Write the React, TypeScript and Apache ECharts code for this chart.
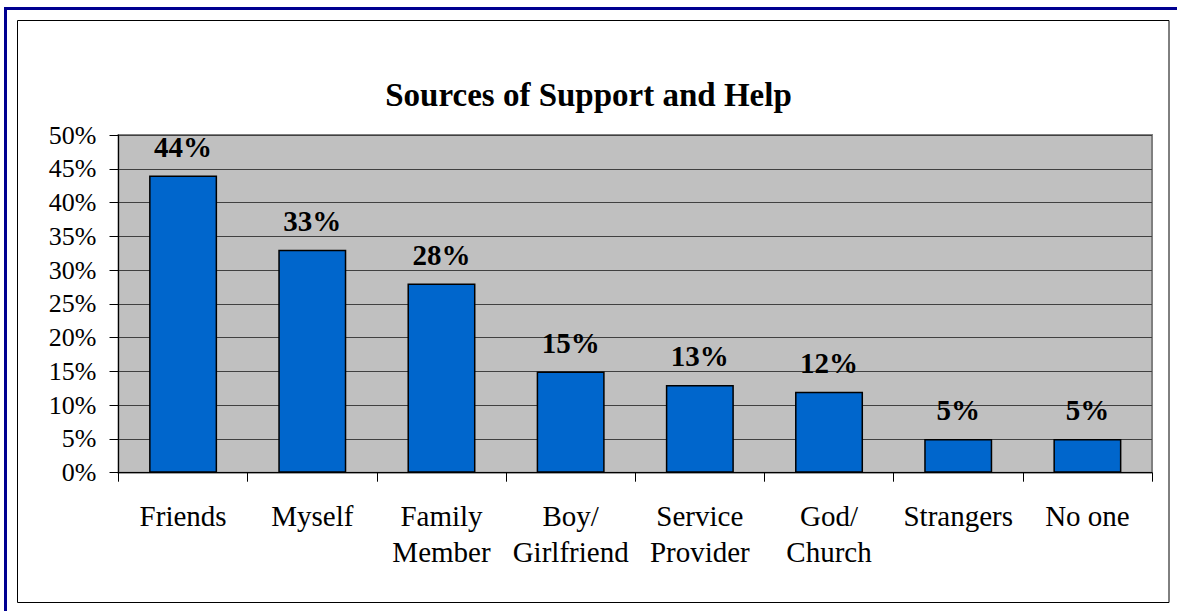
import React, { useEffect, useRef } from "react";
import * as echarts from "echarts";

const categories = ["Friends", "Myself", "Family\nMember", "Boy/\nGirlfriend", "Service\nProvider", "God/\nChurch", "Strangers", "No one"];
const values = [44, 33, 28, 15, 13, 12, 5, 5];
const yTicks = [0, 5, 10, 15, 20, 25, 30, 35, 40, 45, 50];
const title = "Sources of Support and Help";

const FONT = '"Liberation Serif", "Times New Roman", serif';

export default function App() {
  const ref = useRef<HTMLDivElement>(null);
  useEffect(() => {
    document.body.style.margin = "0";
    const chart = echarts.init(ref.current!, null, { renderer: "svg" });
    chart.setOption({
      animation: false,
      backgroundColor: "#ffffff",
      title: {
        text: title,
        left: "center",
        top: 73,
        textStyle: { fontFamily: FONT, fontSize: 33, fontWeight: "bold", color: "#000" },
      },
      graphic: [
        { type: "rect", shape: { x: 17.5, y: 20.5, width: 1151.5, height: 582 }, style: { fill: "none", stroke: "#000", lineWidth: 1 }, silent: true },
        { type: "line", shape: { x1: 5.5, y1: 7, x2: 5.5, y2: 611 }, style: { stroke: "#000090", lineWidth: 3 }, silent: true },
        { type: "line", shape: { x1: 4, y1: 8.5, x2: 1177, y2: 8.5 }, style: { stroke: "#000090", lineWidth: 3 }, silent: true },
      ],
      grid: {
        left: 118.5,
        top: 135,
        right: 25,
        bottom: 138.3,
        show: true,
        backgroundColor: "#c0c0c0",
        borderColor: "#808080",
        borderWidth: 2,
      },
      xAxis: {
        type: "category",
        data: categories,
        boundaryGap: true,
        axisLine: { lineStyle: { color: "#000", width: 1 } },
        axisTick: { show: true, length: 9, inside: false, alignWithLabel: false, lineStyle: { color: "#000" } },
        axisLabel: { interval: 0, fontFamily: FONT, fontSize: 29, lineHeight: 36, color: "#000", margin: 25 },
      },
      yAxis: {
        type: "value",
        min: yTicks[0],
        max: yTicks[yTicks.length - 1],
        interval: 5,
        axisLine: { show: true, lineStyle: { color: "#000", width: 1 } },
        axisTick: { show: true, length: 9, lineStyle: { color: "#000" } },
        splitLine: { show: true, lineStyle: { color: "#404040", width: 1 } },
        axisLabel: { formatter: "{value}%", fontFamily: FONT, fontSize: 26, color: "#000", margin: 22 },
      },
      series: [
        {
          type: "bar",
          data: values,
          barWidth: 68,
          itemStyle: { color: "#0066cc", borderColor: "#000", borderWidth: 1.5 },
          label: {
            show: true,
            position: "top",
            distance: 14,
            formatter: "{c}%",
            fontFamily: FONT,
            fontSize: 29,
            fontWeight: "bold",
            color: "#000",
          },
        },
      ],
    });
    return () => chart.dispose();
  }, []);
  return <div ref={ref} style={{ position: "absolute", left: 0, top: 0, width: 1177, height: 611 }} />;
}
